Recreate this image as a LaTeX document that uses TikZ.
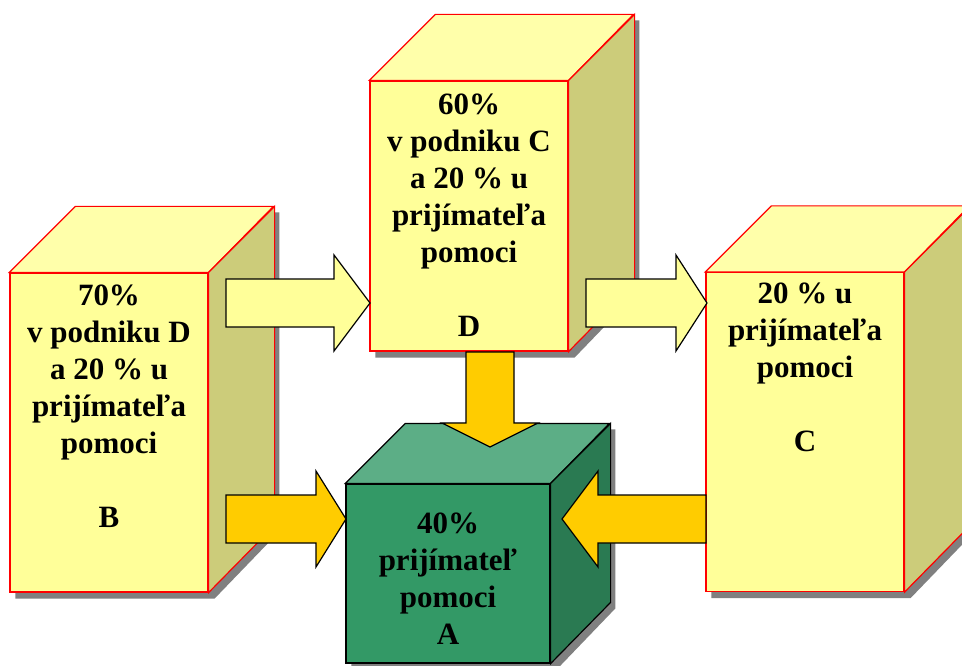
\documentclass[tikz,border=0pt]{standalone}
\usepackage{fontspec}
\setmainfont{Liberation Serif}
\usetikzlibrary{calc,backgrounds}
\definecolor{jaune}{HTML}{FFFF99}
\definecolor{jauneClair}{HTML}{FFFFAA}
\definecolor{jauneFonce}{HTML}{CCCC7A}
\definecolor{jauneOr}{HTML}{FFCC00}
\definecolor{vert}{HTML}{339966}
\definecolor{vertClair}{HTML}{5CAE86}
\definecolor{vertFonce}{HTML}{2A7A52}
\definecolor{ombre}{HTML}{808080}
\begin{document}
\begin{tikzpicture}[x=1pt,y=-1pt]
			\tikzstyle{faceJaune}=[draw=red,fill=jaune,line width=1.2pt,inner sep=0pt]
			\tikzstyle{dessusJaune}=[draw=red,fill=jauneClair,line width=1.2pt,line join=miter]
			\tikzstyle{coteJaune}=[draw=red,fill=jauneFonce,line width=1.2pt,line join=miter]
			\tikzstyle{faceVert}=[draw=black,fill=vert,line width=1.2pt,inner sep=0pt]
			\tikzstyle{dessusVert}=[draw=black,fill=vertClair,line width=1.2pt,line join=miter]
			\tikzstyle{coteVert}=[draw=black,fill=vertFonce,line width=1.2pt,line join=miter]
			\tikzstyle{ombrage}=[fill=ombre]
			\tikzstyle{texte}=[anchor=north,align=center,inner sep=0pt,font=\bfseries\fontsize{31}{37}\selectfont]
			\tikzstyle{flecheClaire}=[draw=black,fill=jaune,line width=1.2pt,line join=miter]
			\tikzstyle{flecheOr}=[draw=black,fill=jauneOr,line width=1.2pt,line join=miter]
			\def\Prof{66}
			\def\ProfA{60}
			\useasboundingbox (0,0) rectangle (962,666);
			% les boites
			\node[faceJaune,minimum width=198pt,minimum height=319pt] (B) at (109,432.5) {};
			\draw[dessusJaune] (B.north west) -- ++(\Prof,-\Prof) -- ++(198,0) -- (B.north east) -- cycle;
			\draw[coteJaune] (B.north east) -- ++(\Prof,-\Prof) -- ++(0,319) -- (B.south east) -- cycle;
			\node[faceJaune,minimum width=198pt,minimum height=270pt] (D) at (469,216) {};
			\draw[dessusJaune] (D.north west) -- ++(\Prof,-\Prof) -- ++(198,0) -- (D.north east) -- cycle;
			\draw[coteJaune] (D.north east) -- ++(\Prof,-\Prof) -- ++(0,270) -- (D.south east) -- cycle;
			\node[faceJaune,minimum width=198pt,minimum height=319pt] (C) at (805,432) {};
			\draw[dessusJaune] (C.north west) -- ++(\Prof,-\Prof) -- ++(198,0) -- (C.north east) -- cycle;
			\draw[coteJaune] (C.north east) -- ++(\Prof,-\Prof) -- ++(0,319) -- (C.south east) -- cycle;
			\node[faceVert,minimum width=204pt,minimum height=179pt] (A) at (448,573.5) {};
			\draw[dessusVert] (A.north west) -- ++(\ProfA,-\ProfA) -- ++(204,0) -- (A.north east) -- cycle;
			\draw[coteVert] (A.north east) -- ++(\ProfA,-\ProfA) -- ++(0,179) -- (A.south east) -- cycle;
			% les ombres
			\begin{scope}[on background layer]
				\fill[ombrage] ([shift={(6,6)}]B.south west) -- ([shift={(6,6)}]B.north west) -- ++(\Prof,-\Prof) -- ++(198,0) -- ++(0,319) -- ([shift={(6,6)}]B.south east) -- cycle;
				\fill[ombrage] ([shift={(6,6)}]D.south west) -- ([shift={(6,6)}]D.north west) -- ++(\Prof,-\Prof) -- ++(198,0) -- ++(0,270) -- ([shift={(6,6)}]D.south east) -- cycle;
				\fill[ombrage] ([shift={(6,6)}]C.south west) -- ([shift={(6,6)}]C.north west) -- ++(\Prof,-\Prof) -- ++(198,0) -- ++(0,319) -- ([shift={(6,6)}]C.south east) -- cycle;
				\fill[ombrage] ([shift={(6,6)}]A.south west) -- ([shift={(6,6)}]A.north west) -- ++(\ProfA,-\ProfA) -- ++(204,0) -- ++(0,179) -- ([shift={(6,6)}]A.south east) -- cycle;
			\end{scope}
			% les textes
			\node[texte] (tB) at (109,285) {70\%\\v podniku D\\a 20 \% u\\prijímateľa\\pomoci\\[37pt]B};
			\node[texte] (tD) at (469,94) {60\%\\v podniku C\\a 20 \% u\\prijímateľa\\pomoci\\[37pt]D};
			\node[texte] (tC) at (805,283) {20 \% u\\prijímateľa\\pomoci\\[37pt]C};
			\node[texte] (tA) at (448,513) {40\%\\prijímateľ\\pomoci\\A};
			% les fleches
			\coordinate (qBD) at (226,303);
			\coordinate (pBD) at (370,303);
			\coordinate (qDC) at (586,303);
			\coordinate (pDC) at (707,303);
			\coordinate (qBA) at (226,519);
			\coordinate (pBA) at (346,519);
			\coordinate (qCA) at (706,519);
			\coordinate (pCA) at (562,519);
			\coordinate (qDA) at (490,352);
			\coordinate (pDA) at (490,447);
			\draw[flecheClaire] ($(qBD)+(0,-24)$) -- ($(pBD)+(-36,-24)$) -- ($(pBD)+(-36,-48)$) -- (pBD) -- ($(pBD)+(-36,48)$) -- ($(pBD)+(-36,24)$) -- ($(qBD)+(0,24)$) -- cycle;
			\draw[flecheClaire] ($(qDC)+(0,-24)$) -- ($(pDC)+(-31,-24)$) -- ($(pDC)+(-31,-48)$) -- (pDC) -- ($(pDC)+(-31,48)$) -- ($(pDC)+(-31,24)$) -- ($(qDC)+(0,24)$) -- cycle;
			\draw[flecheOr] ($(qBA)+(0,-24)$) -- ($(pBA)+(-30,-24)$) -- ($(pBA)+(-30,-48)$) -- (pBA) -- ($(pBA)+(-30,48)$) -- ($(pBA)+(-30,24)$) -- ($(qBA)+(0,24)$) -- cycle;
			\draw[flecheOr] ($(qCA)+(0,-24)$) -- ($(pCA)+(36,-24)$) -- ($(pCA)+(36,-48)$) -- (pCA) -- ($(pCA)+(36,48)$) -- ($(pCA)+(36,24)$) -- ($(qCA)+(0,24)$) -- cycle;
			\draw[flecheOr] ($(qDA)+(-24,0)$) -- ($(pDA)+(-24,-24)$) -- ($(pDA)+(-48,-24)$) -- (pDA) -- ($(pDA)+(48,-24)$) -- ($(pDA)+(24,-24)$) -- ($(qDA)+(24,0)$) -- cycle;
\end{tikzpicture}
\end{document}
